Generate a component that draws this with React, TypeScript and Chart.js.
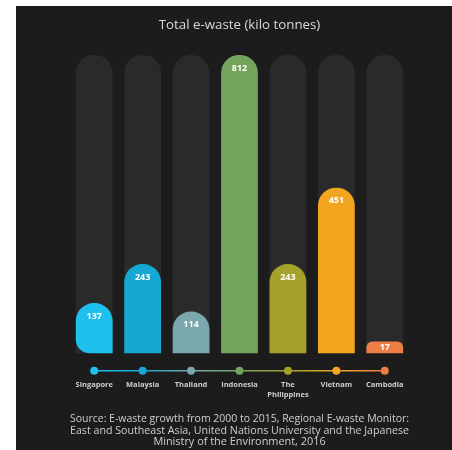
import React, { useEffect, useRef } from "react";
import { Chart, registerables } from "chart.js";

Chart.register(...registerables);

const categories: (string | string[])[] = [
  "Singapore",
  "Malaysia",
  "Thailand",
  "Indonesia",
  ["The", "Philippines"],
  "Vietnam",
  "Cambodia",
];
const ewasteValues = [137, 243, 114, 812, 243, 451, 17];
const trackValues = [812, 812, 812, 812, 812, 812, 812];
const barColors = [
  "#1ec0ee",
  "#14a8d2",
  "#7aa8ac",
  "#74a45c",
  "#a5a22c",
  "#f2a61f",
  "#ee7d48",
];
const titleText = "Total e-waste (kilo tonnes)";
const sourceLines = [
  "Source: E-waste growth from 2000 to 2015, Regional E-waste Monitor:",
  "East and Southeast Asia, United Nations University and the Japanese",
  "Ministry of the Environment, 2016",
];

const FONT = "'Open Sans', 'DejaVu Sans', sans-serif";
const TICK_PAD = 26.6;
const TICK_LINE = 7.5 * 1.28;

const valueLabelPlugin = {
  id: "valueLabels",
  afterDatasetsDraw(chart: any) {
    const meta = chart.getDatasetMeta(0);
    const ctx = chart.ctx;
    ctx.save();
    ctx.fillStyle = "#ffffff";
    ctx.font = `bold 9px ${FONT}`;
    ctx.textAlign = "center";
    ctx.textBaseline = "middle";
    meta.data.forEach((el: any, i: number) => {
      const top = el.y;
      const base = el.base;
      const y = Math.min(top + 13, (top + base) / 2);
      ctx.fillText(String(ewasteValues[i]), el.x, y);
    });
    ctx.restore();
  },
};

const timelinePlugin = {
  id: "timeline",
  afterDraw(chart: any) {
    const x = chart.scales.x;
    const ctx = chart.ctx;
    const y = chart.chartArea.bottom + 17.4;
    ctx.save();
    for (let i = 0; i < categories.length - 1; i++) {
      const x0 = x.getPixelForValue(i);
      const x1 = x.getPixelForValue(i + 1);
      const g = ctx.createLinearGradient(x0, y, x1, y);
      g.addColorStop(0, barColors[i]);
      g.addColorStop(1, barColors[i + 1]);
      ctx.strokeStyle = g;
      ctx.lineWidth = 1.5;
      ctx.beginPath();
      ctx.moveTo(x0, y);
      ctx.lineTo(x1, y);
      ctx.stroke();
    }
    for (let i = 0; i < categories.length; i++) {
      ctx.fillStyle = barColors[i];
      ctx.beginPath();
      ctx.arc(x.getPixelForValue(i), y, 4, 0, Math.PI * 2);
      ctx.fill();
    }
    ctx.restore();
  },
};

function ChartView() {
  const ref = useRef<HTMLCanvasElement>(null);
  useEffect(() => {
    if (!ref.current) return;
    const chart = new Chart(ref.current, {
      type: "bar",
      data: {
        labels: categories,
        datasets: [
          {
            label: "E-waste",
            data: ewasteValues,
            backgroundColor: barColors,
            grouped: false,
            barPercentage: 0.76,
            categoryPercentage: 1,
            borderSkipped: false,
            minBarLength: 12,
            borderRadius: (c: any) =>
              c.dataIndex === 0
                ? { topLeft: 18, topRight: 18, bottomLeft: 14, bottomRight: 0 }
                : { topLeft: 18, topRight: 18, bottomLeft: 0, bottomRight: 0 },
            order: 0,
          } as any,
          {
            label: "Track",
            data: trackValues,
            backgroundColor: "#2a2a2a",
            grouped: false,
            barPercentage: 0.76,
            categoryPercentage: 1,
            borderRadius: { topLeft: 18, topRight: 18, bottomLeft: 0, bottomRight: 0 },
            order: 1,
          } as any,
        ],
      },
      options: {
        responsive: false,
        animation: false,
        layout: { padding: { left: 54, right: 43, top: 0, bottom: 2 } },
        plugins: {
          legend: { display: false },
          tooltip: { enabled: false },
          title: {
            display: true,
            text: titleText,
            color: "#d9d9d9",
            font: { family: FONT, size: 13.3, weight: "normal", lineHeight: 1.2 },
            padding: { top: 11, bottom: 22 },
          },
          subtitle: {
            display: true,
            position: "bottom",
            text: sourceLines,
            color: "#cfcfcf",
            font: { family: FONT, size: 10.9, weight: "normal", lineHeight: 1.07 },
            padding: { top: 13.8, bottom: 0 },
          },
        },
        scales: {
          x: {
            grid: { display: false, drawTicks: false },
            border: { display: false },
            ticks: {
              color: "#cfcfcf",
              font: { family: FONT, size: 7.5, weight: "bold", lineHeight: 1.28 },
              padding: TICK_PAD,
              maxRotation: 0,
              autoSkip: false,
            },
            afterFit: (scale: any) => {
              scale.height = TICK_PAD + 2 * TICK_LINE;
            },
          },
          y: {
            display: false,
            min: 0,
            max: 812,
          },
        },
      },
      plugins: [valueLabelPlugin, timelinePlugin],
    });
    return () => chart.destroy();
  }, []);
  return <canvas ref={ref} width={436} height={444} />;
}

export default function App() {
  return (
    <div
      style={{
        position: "absolute",
        left: 16,
        top: 6,
        width: 436,
        height: 444,
        background: "#1c1c1c",
      }}
    >
      <ChartView />
    </div>
  );
}
